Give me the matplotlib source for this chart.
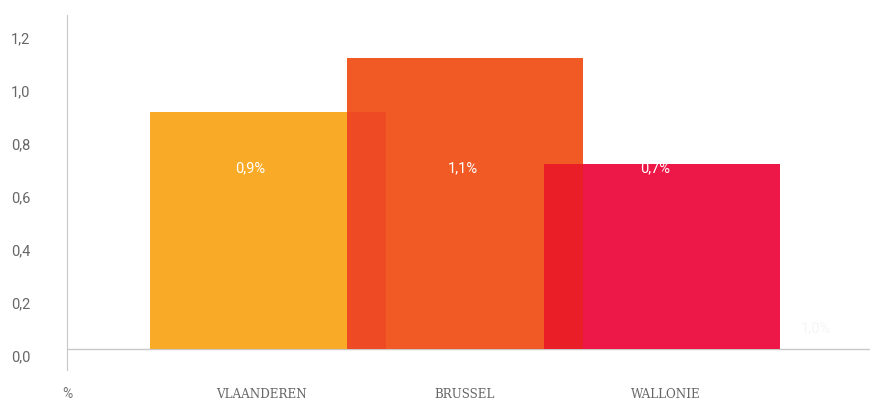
import matplotlib.pyplot as plt
import matplotlib.transforms as mtransforms

regions = ['VLAANDEREN', 'BRUSSEL', 'WALLONIE']
values = [0.894, 1.098, 0.698]
value_labels = ['0,9%', '1,1%', '0,7%']
colors = ['#F9AB27', '#F15A24', '#EE1848']
overlap_colors = ['#EE4A23', '#E91E26']
yticks = [0.0, 0.2, 0.4, 0.6, 0.8, 1.0, 1.2]
ytick_labels = ['0,0', '0,2', '0,4', '0,6', '0,8', '1,0', '1,2']
label_level = 0.683
hidden_label = '1,0%'

num_font = ['Liberation Sans Narrow', 'Roboto', 'DejaVu Sans']
cat_font = ['DejaVu Serif']

fig = plt.figure(figsize=(8.74, 4.01), dpi=100)
ax = fig.add_axes([0.0767, 0.0773, 0.9187, 0.8853])

x = list(range(len(regions)))
bars = ax.bar(x, values, width=1.2, color=colors, zorder=2)

# overlapping parts get a darker colour, like the original
for i, oc in enumerate(overlap_colors):
    over = ax.bar([x[i]], [values[i]], width=1.2, color=oc, zorder=3)
    over[0].set_clip_path(bars[i + 1])

label_dx = [-0.09, -0.01, -0.035]
for xi, dx, lab in zip(x, label_dx, value_labels):
    ax.text(xi + dx, label_level, lab, ha='center', va='center',
            color='white', fontsize=10.5, family=num_font, zorder=4)
ax.text(2.78, 0.08, hidden_label, ha='center', va='center',
        color='#F6F6F6', fontsize=10.5, family=num_font, zorder=4)

ax.set_xlim(-1.02, 3.056)
ax.set_ylim(-0.079, 1.26)
ax.axhline(0, color='#C8C8C8', lw=1, zorder=1)

for s in ['top', 'right', 'bottom']:
    ax.spines[s].set_visible(False)
ax.spines['left'].set_color('#C8C8C8')

ax.set_yticks(yticks)
ax.set_yticklabels(ytick_labels, family=num_font, fontsize=10.5, color='#666666')
ax.tick_params(axis='y', length=0, pad=26.5)
off = mtransforms.ScaledTranslation(0, -0.07, fig.dpi_scale_trans)
for t in ax.get_yticklabels():
    t.set_transform(t.get_transform() + off)

ax.set_xticks(x)
ax.set_xticklabels(regions, family=cat_font, fontsize=9.5, color='#666666',
                   fontstretch='condensed')
ax.tick_params(axis='x', length=0, pad=13)
cat_dx = [-0.035, 0.0, 0.02]
for t, dx in zip(ax.get_xticklabels(), cat_dx):
    t.set_transform(t.get_transform() + mtransforms.ScaledTranslation(dx * 1.97, 0, fig.dpi_scale_trans))

ax.annotate('%', xy=(0, 0), xycoords='axes fraction', xytext=(0, -17),
            textcoords='offset points', ha='center', va='center',
            fontsize=10, color='#777777', family=num_font)

fig.savefig('out.png', dpi=100)
